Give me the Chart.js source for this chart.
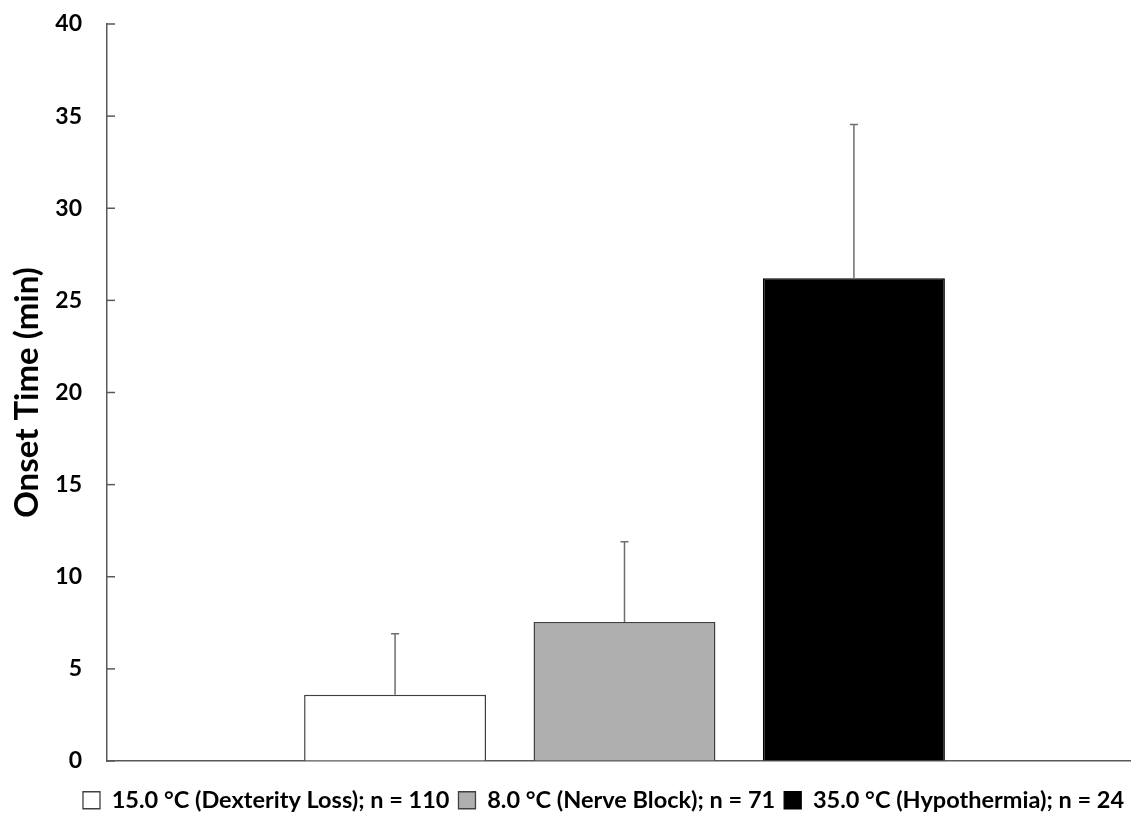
<!DOCTYPE html>
<html>
<head>
<meta charset="utf-8">
<script src="https://cdn.jsdelivr.net/npm/chart.js@4"></script>
<style>
  html, body { margin: 0; padding: 0; background: #fff; overflow: hidden; }
  #wrap { width: 1131px; height: 819px; overflow: hidden; }
</style>
</head>
<body>
<div id="wrap"><canvas id="c" width="1142" height="819"></canvas></div>
<script>
const categories = [''];
const seriesLabels = ['15.0 °C (Dexterity Loss); n = 110', '8.0 °C (Nerve Block); n = 71', '35.0 °C (Hypothermia); n = 24'];
const meanOnset = [3.6, 7.55, 26.2];
const errorUpper = [3.3, 4.35, 8.35];
const fillColors = ['#ffffff', '#afafaf', '#000000'];
const yTicks = [0, 5, 10, 15, 20, 25, 30, 35, 40];
const yTitle = 'Onset Time (min)';

const AXIS = '#595959';
const FONT = 'Lato';
const LEGEND_CENTER_X = 603.5;

const datasets = seriesLabels.map((lab, i) => ({
  label: lab,
  data: [meanOnset[i]],
  err: [errorUpper[i]],
  backgroundColor: fillColors[i],
  borderColor: i === 2 ? '#000000' : '#404040',
  borderWidth: 1.5,
  categoryPercentage: 0.665,
  barPercentage: 0.793
}));

const extras = {
  id: 'extras',
  afterLayout(chart) {
    const lg = chart.legend;
    if (!lg) return;
    const dx = LEGEND_CENTER_X - (lg.left + lg.right) / 2;
    lg.left += dx;
    lg.right += dx;
    lg.top += 3;
    lg.bottom += 3;
  },
  afterDatasetsDraw(chart) {
    const ctx = chart.ctx;
    const y = chart.scales.y;
    ctx.save();
    ctx.strokeStyle = '#6e6e6e';
    ctx.lineWidth = 1.5;
    chart.data.datasets.forEach((ds, di) => {
      const meta = chart.getDatasetMeta(di);
      meta.data.forEach((bar, j) => {
        const v = ds.data[j], e = ds.err[j];
        const x = bar.x;
        const y0 = y.getPixelForValue(v);
        const y1 = y.getPixelForValue(v + e);
        ctx.beginPath();
        ctx.moveTo(x, y0);
        ctx.lineTo(x, y1);
        ctx.moveTo(x - 4, y1);
        ctx.lineTo(x + 4, y1);
        ctx.stroke();
      });
    });
    ctx.strokeStyle = AXIS;
    ctx.lineWidth = 1.5;
    const x0 = chart.chartArea.left;
    yTicks.forEach(t => {
      const py = y.getPixelForValue(t);
      ctx.beginPath();
      ctx.moveTo(x0, py);
      ctx.lineTo(x0 + 8, py);
      ctx.stroke();
    });
    ctx.restore();
  }
};

new Chart(document.getElementById('c'), {
  type: 'bar',
  data: { labels: categories, datasets },
  options: {
    responsive: false,
    animation: false,
    layout: { padding: { top: 24, right: 0, bottom: 0, left: 0 } },
    plugins: {
      tooltip: { enabled: false },
      legend: {
        position: 'bottom',
        labels: {
          color: '#000',
          font: { family: FONT, size: 23.5, weight: 'bold' },
          boxWidth: 17,
          boxHeight: 17,
          padding: 9,
          generateLabels(chart) {
            return chart.data.datasets.map((ds, i) => ({
              text: ds.label,
              fillStyle: ds.backgroundColor,
              strokeStyle: i === 2 ? '#000' : '#404040',
              lineWidth: 1.3,
              datasetIndex: i,
              hidden: false,
              fontColor: '#000'
            }));
          }
        }
      }
    },
    scales: {
      x: {
        grid: { display: false, drawTicks: false },
        ticks: { display: false },
        border: { display: true, color: AXIS, width: 1.5 },
        afterFit(scale) { scale.height = 15.5; }
      },
      y: {
        min: 0,
        max: 40,
        afterBuildTicks(scale) { scale.ticks = yTicks.map(v => ({ value: v })); },
        afterFit(scale) { scale.width = 107; },
        ticks: {
          color: '#000',
          padding: 0,
          font: { family: FONT, size: 23, weight: 'bold' }
        },
        grid: { display: true, drawOnChartArea: false, drawTicks: true, tickLength: 25, tickColor: 'rgba(0,0,0,0)' },
        border: { display: true, color: AXIS, width: 1.5 },
        title: {
          display: true,
          text: yTitle,
          color: '#000',
          font: { family: FONT, size: 33, weight: 'bold' },
          padding: { top: 8, bottom: 0 }
        }
      }
    }
  },
  plugins: [extras]
});
</script>
</body>
</html>
